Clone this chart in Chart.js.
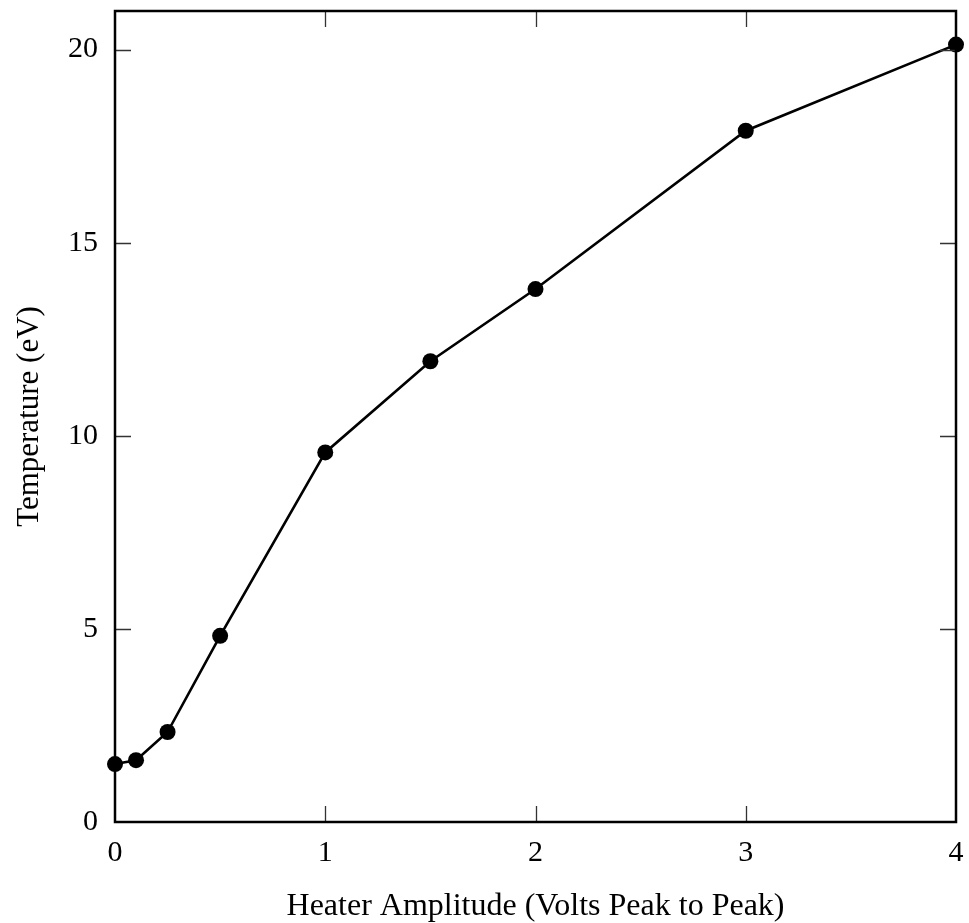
<!DOCTYPE html>
<html>
<head>
<meta charset="utf-8">
<script src="https://cdn.jsdelivr.net/npm/chart.js@4.4.1/dist/chart.umd.min.js"></script>
<style>
html,body{margin:0;padding:0;background:#fff;}
#c{display:block;}
</style>
</head>
<body>
<canvas id="c" width="969" height="923"></canvas>
<script>
const heaterAmplitude = [0, 0.1, 0.25, 0.5, 1, 1.5, 2, 3, 4];
const temperature = [1.50, 1.60, 2.33, 4.82, 9.57, 11.93, 13.80, 17.90, 20.13];
const xTicks = [0, 1, 2, 3, 4];
const yTicks = [0, 5, 10, 15, 20];

const FONT = "'Liberation Serif', 'DejaVu Serif', serif";

const framePlugin = {
  id: 'frame',
  afterDatasetsDraw(chart) {
    const {ctx, chartArea: a, scales: {x, y}} = chart;
    ctx.save();
    ctx.strokeStyle = '#333';
    ctx.lineWidth = 1.3;
    const L = 16;
    ctx.beginPath();
    xTicks.forEach(v => {
      const px = Math.round(x.getPixelForValue(v)) + 0.5;
      if (px <= a.left + 2 || px >= a.right - 2) return;
      ctx.moveTo(px, a.bottom); ctx.lineTo(px, a.bottom - L);
      ctx.moveTo(px, a.top); ctx.lineTo(px, a.top + L);
    });
    yTicks.forEach(v => {
      const py = Math.round(y.getPixelForValue(v)) + 0.5;
      if (py <= a.top + 2 || py >= a.bottom - 2) return;
      ctx.moveTo(a.left, py); ctx.lineTo(a.left + L, py);
      ctx.moveTo(a.right, py); ctx.lineTo(a.right - L, py);
    });
    ctx.stroke();
    ctx.strokeStyle = '#000';
    ctx.lineWidth = 2.5;
    ctx.strokeRect(a.left, a.top, a.right - a.left, a.bottom - a.top);
    ctx.restore();
  }
};

function zeroPad(s) {
  s.paddingTop = 0; s.paddingBottom = 0; s.paddingLeft = 0; s.paddingRight = 0;
}

new Chart(document.getElementById('c'), {
  type: 'scatter',
  data: {
    datasets: [{
      data: heaterAmplitude.map((v, i) => ({x: v, y: temperature[i]})),
      showLine: true,
      borderColor: '#000',
      backgroundColor: '#000',
      borderWidth: 2.6,
      pointRadius: 8,
      pointHoverRadius: 8,
      pointBorderWidth: 0,
      clip: false
    }]
  },
  options: {
    responsive: false,
    animation: false,
    events: [],
    layout: {padding: {top: 11, right: 13, left: 0, bottom: 0}},
    plugins: {legend: {display: false}, tooltip: {enabled: false}},
    scales: {
      x: {
        type: 'linear', min: 0, max: 4,
        border: {display: false},
        grid: {display: false, drawTicks: false},
        afterBuildTicks: s => { s.ticks = xTicks.map(v => ({value: v})); },
        afterFit: s => { s.height = 101; zeroPad(s); },
        ticks: {color: '#000', padding: 13, font: {family: FONT, size: 30}, maxRotation: 0},
        title: {display: true, text: 'Heater Amplitude (Volts Peak to Peak)', color: '#000',
          font: {family: FONT, size: 32}, padding: {top: 0, bottom: -3}}
      },
      y: {
        type: 'linear', min: 0, max: 21,
        border: {display: false},
        grid: {display: false, drawTicks: false},
        afterBuildTicks: s => { s.ticks = yTicks.map(v => ({value: v})); },
        afterFit: s => { s.width = 115; zeroPad(s); },
        ticks: {color: '#000', padding: 17, font: {family: FONT, size: 30}},
        title: {display: true, text: 'Temperature (eV)', color: '#000',
          font: {family: FONT, size: 31}, padding: {top: 11, bottom: 0}}
      }
    }
  },
  plugins: [framePlugin]
});
</script>
</body>
</html>
